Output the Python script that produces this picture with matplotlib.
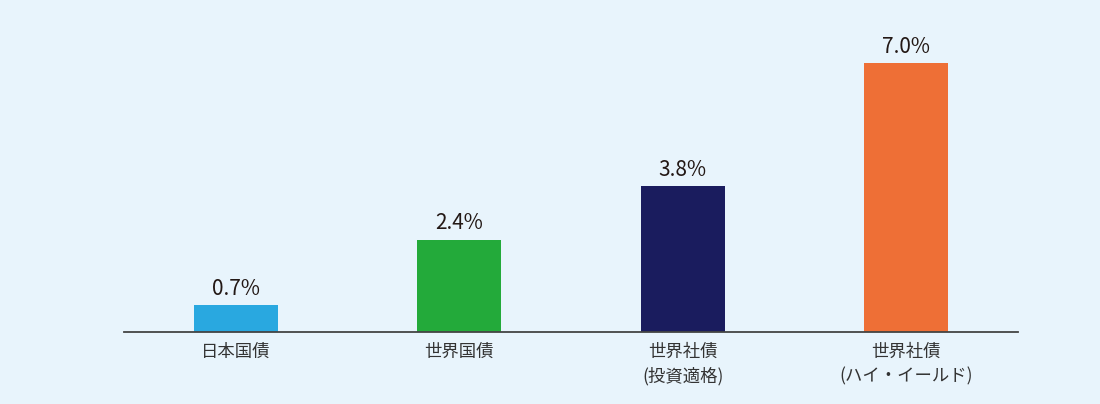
import matplotlib
matplotlib.use("Agg")
import matplotlib.pyplot as plt
import numpy as np

plt.rcParams['font.family'] = ['Noto Sans CJK JP', 'DejaVu Sans']

# データ
categories = ["日本国債", "世界国債", "世界社債\n(投資適格)", "世界社債\n(ハイ・イールド)"]
values = [0.7, 2.4, 3.8, 7.0]
value_labels = ["0.7%", "2.4%", "3.8%", "7.0%"]
COLORS = ["#29A8E0", "#23AA3A", "#1A1C5E", "#EE6F36"]
BG = "#E8F4FC"

fig = plt.figure(figsize=(11, 4.04), dpi=100, facecolor=BG)
ax = fig.add_axes([124 / 1100, 72 / 404, 894 / 1100, 307 / 404])
ax.set_facecolor(BG)

x = np.arange(len(categories))
ax.bar(x, values, width=0.378, color=COLORS, zorder=2)

for xi, v, lab in zip(x, values, value_labels):
    ax.annotate(lab, (xi, v), xytext=(0, 4), textcoords="offset points",
                ha="center", va="bottom", fontsize=15, color="#231815")

ax.set_xlim(-0.5, 3.5)
ax.set_ylim(0, 8)
ax.set_xticks(x)
ax.set_xticklabels(categories, fontsize=12.5, color="#333333", linespacing=1.4)
ax.tick_params(axis="x", length=0, pad=8)
ax.set_yticks([])

# 枠線
for s in ["top", "right", "left"]:
    ax.spines[s].set_visible(False)
ax.spines["bottom"].set_color("#444444")
ax.spines["bottom"].set_linewidth(1.3)
ax.spines["bottom"].set_zorder(3)

fig.savefig("out.png", dpi=100, facecolor=BG)
